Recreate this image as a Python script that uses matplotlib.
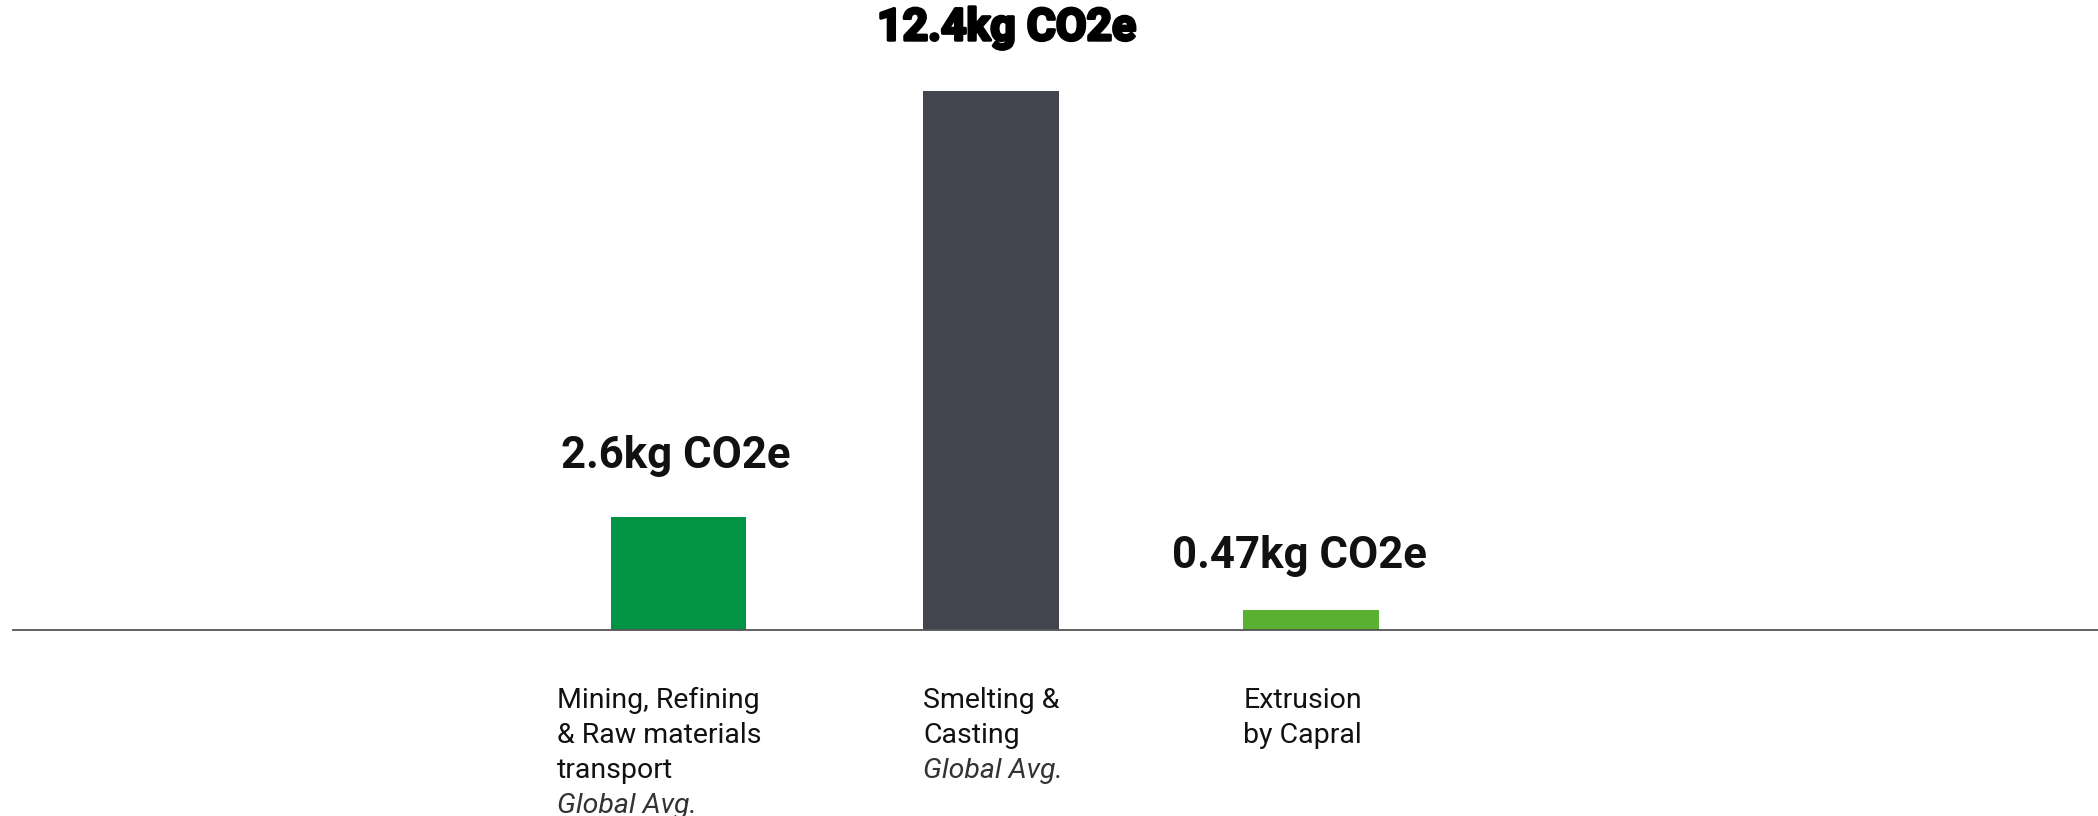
import matplotlib
matplotlib.use("Agg")
import matplotlib.pyplot as plt
import matplotlib.patheffects as pe

# data
stages = ["Mining, Refining\n& Raw materials\ntransport", "Smelting &\nCasting", "Extrusion\nby Capral"]
subnotes = ["Global Avg.", "Global Avg.", ""]
values = [2.6, 12.4, 0.47]
value_labels = ["2.6kg CO2e", "12.4kg CO2e", "0.47kg CO2e"]
colors = ["#009444", "#42454d", "#5ab031"]

plt.rcParams["font.family"] = ["Roboto", "DejaVu Sans"]

fig = plt.figure(figsize=(20.98, 8.16), dpi=100)
ax = fig.add_axes([13 / 2098, 1 - 630 / 816, 1 - 13 / 2098, 630 / 816])

x = [0, 0.99, 2.005]
width = 0.43
bars = ax.bar(x, values, width=width, color=colors, zorder=2)

ax.set_xlim(-2.11, 4.5)
ax.set_ylim(0, 14.49)
for s in ["top", "right", "left"]:
    ax.spines[s].set_visible(False)
ax.spines["bottom"].set_color("#555555")
ax.spines["bottom"].set_linewidth(1.3)
ax.set_xticks([])
ax.set_yticks([])

# value labels above bars (x offset, y offset in points)
lab_off = [(-2, 35.5), (11.5, 36.5), (-8, 30)]
for i, (b, lab) in enumerate(zip(bars, value_labels)):
    cx = b.get_x() + b.get_width() / 2
    top = b.get_height()
    t = ax.annotate(lab, xy=(cx, top), xytext=lab_off[i], textcoords="offset points",
                    ha="center", va="baseline", fontsize=31.5, fontweight="bold",
                    color="#111111")
    if i == 1:
        # the big label is drawn in a heavier face
        t.set_fontsize(32)
        t.set_color("#000000")
        t.set_path_effects([pe.withStroke(linewidth=2.2, foreground="#000000")])

# category labels under the axis, one line at a time
x_shift = [-39, 0, 0]
for i, b in enumerate(bars):
    left = b.get_x()
    lines = stages[i].split("\n")
    dy = 56
    for ln in lines:
        ax.annotate(ln, xy=(left, 0), xytext=(x_shift[i], -dy), textcoords="offset points",
                    ha="left", va="baseline", fontsize=20.5, color="#111111",
                    annotation_clip=False)
        dy += 25.2
    if subnotes[i]:
        ax.annotate(subnotes[i], xy=(left, 0), xytext=(x_shift[i], -dy), textcoords="offset points",
                    ha="left", va="baseline", fontsize=20.5, style="italic", color="#333333",
                    annotation_clip=False)

fig.savefig("out.png", dpi=100)
